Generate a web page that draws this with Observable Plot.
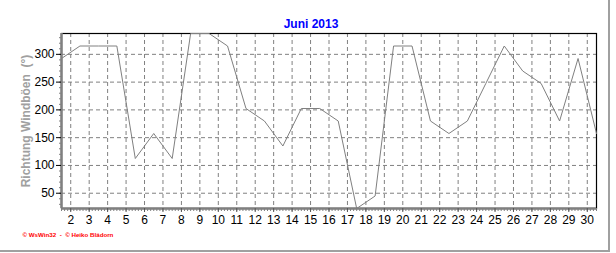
<!DOCTYPE html>
<html>
<head>
<meta charset="utf-8">
<script src="https://cdn.jsdelivr.net/npm/d3@7"></script>
<script src="https://cdn.jsdelivr.net/npm/@observablehq/plot@0.6"></script>
<style>
  html, body { margin: 0; padding: 0; background: #fff; }
  #wrap { position: relative; width: 616px; height: 253px; }
  #border { position: absolute; left: 0; top: 0; width: 608px; height: 250px;
            border-right: 2px solid #a0a0a0; border-bottom: 2px solid #a0a0a0; pointer-events: none; }
  #wrap svg { position: absolute; left: 0; top: 0; overflow: visible; }
</style>
</head>
<body>
<div id="wrap"><div id="border"></div></div>
<script>
// Data: wind gust direction (degrees) per day, June 2013
const days = [1,2,3,4,5,6,7,8,9,10,11,12,13,14,15,16,17,18,19,20,21,22,23,24,25,26,27,28,29,30];
const direction = [292.5,315,315,315,112.5,157.5,112.5,337.5,337.5,315,202.5,180,135,202.5,202.5,180,22.5,45,315,315,180,157.5,180,247.5,315,270,247.5,180,292.5,157.5];
const xTicks = [2,3,4,5,6,7,8,9,10,11,12,13,14,15,16,17,18,19,20,21,22,23,24,25,26,27,28,29,30];
const yTicks = [50,100,150,200,250,300];
const title = "Juni 2013";
const yLabel = "Richtung Windböen  (°)";
const footer = "© WsWin32  -  © Heiko Blädorn";

const data = days.map((d, i) => ({day: d + 0.5, dir: direction[i]}));
const xMinor = d3.range(1.5, 30.5 + 1e-9, 1/6);
const yMinor = d3.range(30, 337.5, 10);

const chart = Plot.plot({
  width: 616,
  height: 253,
  marginLeft: 61,
  marginRight: 20,
  marginTop: 33,
  marginBottom: 45,
  style: {fontFamily: "'Liberation Sans', Arial, sans-serif", fontSize: "12px", color: "black", background: "transparent"},
  x: {domain: [1.5, 30.5], label: null},
  y: {domain: [22.5, 337.5], label: null},
  marks: [
    Plot.gridY(yTicks, {stroke: "#808080", strokeOpacity: 1, strokeDasharray: "4,3"}),
    Plot.gridX(xTicks, {stroke: "#808080", strokeOpacity: 1, strokeDasharray: "4,3"}),
    Plot.frame({stroke: "black", strokeWidth: 1.2}),
    Plot.line(data, {x: "day", y: "dir", stroke: "#808080", strokeWidth: 1}),
    Plot.ruleX([1.5], {stroke: "#808080", strokeWidth: 2.5}),
    Plot.ruleY([22.5], {stroke: "#808080", strokeWidth: 2.5}),
    Plot.axisX(xMinor, {tickSize: 3, tickFormat: () => "", stroke: "#808080", tickPadding: 0, label: null}),
    Plot.axisY(yMinor, {tickSize: 2, tickFormat: () => "", stroke: "#808080", tickPadding: 0, label: null}),
    Plot.axisX(xTicks, {tickSize: 4, tickPadding: 3, stroke: "#555", fill: "black", fontSize: 12, label: null}),
    Plot.axisY(yTicks, {tickSize: 5, tickPadding: 2, stroke: "black", fill: "black", fontSize: 12, label: null}),
    Plot.text([title], {frameAnchor: "top", dx: -18, dy: -14, fill: "#0000ff", fontWeight: "bold", fontSize: 12}),
    Plot.text([yLabel], {frameAnchor: "left", textAnchor: "middle", dx: -35, rotate: -90, fill: "#a0a0a0", fontWeight: "bold", fontSize: 12}),
    Plot.text([footer], {frameAnchor: "bottom-left", dx: -39, dy: 28, textAnchor: "start", fill: "#ff0000", fontWeight: "bold", fontSize: 6.2, fontFamily: "'Liberation Sans', Arial, sans-serif"})
  ]
});
document.getElementById("wrap").prepend(chart);
</script>
</body>
</html>
